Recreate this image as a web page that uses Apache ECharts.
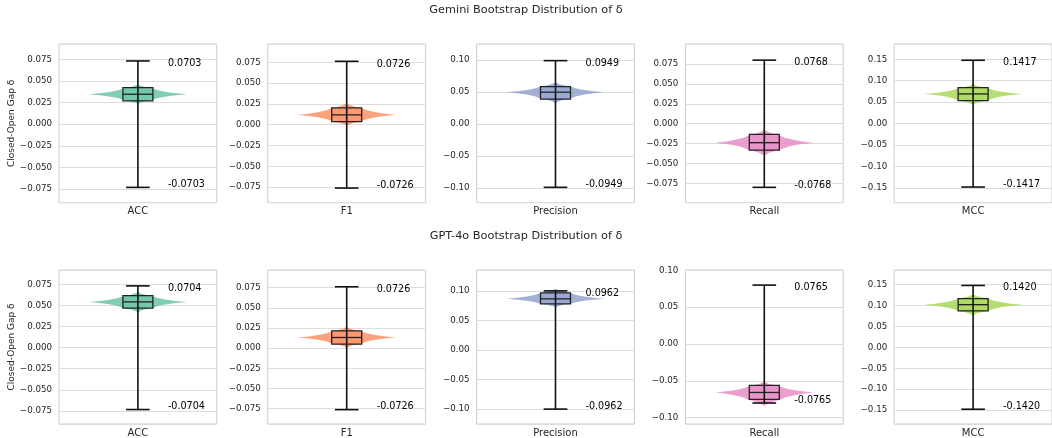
<!DOCTYPE html>
<html>
<head>
<meta charset="utf-8">
<script src="https://cdn.jsdelivr.net/npm/echarts@6/dist/echarts.min.js"></script>
<style>
  html, body { margin: 0; padding: 0; background: #fff; }
  #chart { width: 1052px; height: 438px; }
</style>
</head>
<body>
<div id="chart"></div>
<script>
const metrics = ['ACC', 'F1', 'Precision', 'Recall', 'MCC']
const rowTitles = ['Gemini Bootstrap Distribution of δ', 'GPT-4o Bootstrap Distribution of δ']

// Gemini
const geminiMedian = [0.0346, 0.0118, 0.0497, -0.0237, 0.0693]
const geminiQ1 = [0.0269, 0.0037, 0.0388, -0.0329, 0.0537]
const geminiQ3 = [0.0422, 0.0202, 0.0584, -0.0133, 0.0840]
const geminiViolinLow = [0.0234, -0.0014, 0.0326, -0.0400, 0.0437]
const geminiViolinHigh = [0.0460, 0.0258, 0.0653, -0.0074, 0.0926]
const geminiWhisker = [0.0731, 0.0762, 0.0990, 0.0796, 0.1477]
const geminiThreshold = [0.0703, 0.0726, 0.0949, 0.0768, 0.1417]
const geminiAxisMin = [-0.0908, -0.0938, -0.123, -0.0988, -0.1842]
const geminiAxisMax = [0.0927, 0.0970, 0.125, 0.0998, 0.1856]
const geminiTickStep = [0.025, 0.025, 0.05, 0.025, 0.05]

// GPT-4o
const gptMedian = [0.0545, 0.0133, 0.0865, -0.0657, 0.1020]
const gptQ1 = [0.0471, 0.0050, 0.0780, -0.0751, 0.0874]
const gptQ3 = [0.0620, 0.0215, 0.0966, -0.0562, 0.1166]
const gptViolinLow = [0.0420, 0.0005, 0.0720, -0.0838, 0.0762]
const gptViolinHigh = [0.0663, 0.0265, 0.1034, -0.0508, 0.1270]
const gptWhisker = [0.0735, 0.0762, 0.1000, 0.0800, 0.1480]
const gptThreshold = [0.0704, 0.0726, 0.0962, 0.0765, 0.1420]
const gptAxisMin = [-0.0907, -0.0940, -0.1252, -0.1085, -0.1833]
const gptAxisMax = [0.0924, 0.0970, 0.1353, 0.1005, 0.1849]
const gptTickStep = [0.025, 0.025, 0.05, 0.05, 0.05]

// violin outline: [fraction toward tail, relative width]
const violinProfile = [[0, 1], [0.1, 0.78], [0.2, 0.62], [0.3, 0.5], [0.4, 0.41], [0.5, 0.35],
  [0.6, 0.27], [0.7, 0.17], [0.8, 0.09], [0.9, 0.04], [1, 0]]

const colors = ['#66c2a5', '#fc8d62', '#8da0cb', '#e78ac3', '#a6d854']
const font = 'DejaVu Sans'
const textColor = '#262626'

const panelLeft = [59, 267.8, 476.6, 685.4, 894.2]
const panelWidth = 157.8
const rowTop = [44, 270]
const rowHeight = [158.7, 155]

const rows = [
  { median: geminiMedian, q1: geminiQ1, q3: geminiQ3, lo: geminiViolinLow, hi: geminiViolinHigh,
    whisker: geminiWhisker, thr: geminiThreshold, min: geminiAxisMin, max: geminiAxisMax, step: geminiTickStep },
  { median: gptMedian, q1: gptQ1, q3: gptQ3, lo: gptViolinLow, hi: gptViolinHigh,
    whisker: gptWhisker, thr: gptThreshold, min: gptAxisMin, max: gptAxisMax, step: gptTickStep }
]

const makeRender = (color) => (params, api) => {
  const med = api.value(1)
  const q1 = api.value(2)
  const q3 = api.value(3)
  const lo = api.value(4)
  const hi = api.value(5)
  const wh = api.value(6)
  const thr = api.value(7)
  const band = api.size([1, 0])[0]
  const cx = api.coord([0, med])[0]
  const y = (v) => api.coord([0, v])[1]

  // violin
  const vw = band * 0.31
  const right = []
  for (let i = violinProfile.length - 1; i >= 0; i--) {
    const [t, w] = violinProfile[i]
    right.push([cx + vw * w, y(med + t * (hi - med))])
  }
  for (let i = 1; i < violinProfile.length; i++) {
    const [t, w] = violinProfile[i]
    right.push([cx + vw * w, y(med - t * (med - lo))])
  }
  const left = right.slice().reverse().map(p => [2 * cx - p[0], p[1]])
  const violin = {
    type: 'polygon',
    shape: { points: right.concat(left) },
    style: { fill: color, opacity: 0.82 }
  }

  const bw = band * 0.095
  const box = {
    type: 'rect',
    shape: { x: cx - bw, y: y(q3), width: 2 * bw, height: y(q1) - y(q3) },
    style: { fill: color, fillOpacity: 0.45, stroke: '#222', lineWidth: 1.3 }
  }
  const medLine = {
    type: 'line',
    shape: { x1: cx - bw, y1: y(med), x2: cx + bw, y2: y(med) },
    style: { stroke: '#222', lineWidth: 1.3 }
  }
  const cw = band * 0.075
  const lineStyle = { stroke: '#111', lineWidth: 1.6 }
  const stem = { type: 'line', shape: { x1: cx, y1: y(wh), x2: cx, y2: y(-wh) }, style: lineStyle }
  const capTop = { type: 'line', shape: { x1: cx - cw, y1: y(wh), x2: cx + cw, y2: y(wh) }, style: lineStyle }
  const capBot = { type: 'line', shape: { x1: cx - cw, y1: y(-wh), x2: cx + cw, y2: y(-wh) }, style: lineStyle }

  const label = (v) => ({
    type: 'text',
    style: {
      x: cx + band * 0.19, y: y(v), text: v.toFixed(4),
      fill: '#000', font: '9.6px "DejaVu Sans"', align: 'left', verticalAlign: 'middle'
    }
  })

  return {
    type: 'group',
    children: [violin, box, medLine, stem, capTop, capBot, label(thr), label(-thr)]
  }
}

const grid = []
const xAxis = []
const yAxis = []
const series = []

rows.forEach((row, r) => {
  metrics.forEach((name, c) => {
    const idx = r * 5 + c
    const step = row.step[c]
    const decimals = step < 0.05 ? 3 : 2
    grid.push({
      left: panelLeft[c], top: rowTop[r], width: panelWidth, height: rowHeight[r],
      show: true, borderColor: '#cccccc', borderWidth: 1
    })
    xAxis.push({
      type: 'category', gridIndex: idx, data: [name],
      axisLine: { show: false }, axisTick: { show: false }, splitLine: { show: false },
      axisLabel: { fontSize: 10, color: textColor, fontFamily: font, margin: 4 }
    })
    yAxis.push({
      type: 'value', gridIndex: idx,
      min: row.min[c], max: row.max[c],
      minInterval: step, maxInterval: step,
      axisLine: { show: false }, axisTick: { show: false },
      axisLabel: {
        fontSize: 8.7, color: textColor, fontFamily: font, margin: 7,
        showMinLabel: false, showMaxLabel: false,
        formatter: (v) => v.toFixed(decimals).replace('-', '\u2212')
      },
      splitLine: { lineStyle: { color: '#dcdcdc', width: 1 } },
      name: c === 0 ? 'Closed-Open Gap δ' : '',
      nameLocation: 'middle', nameRotate: 90, nameGap: 43,
      nameTextStyle: { fontSize: 9, color: textColor, fontFamily: font }
    })
    series.push({
      type: 'custom', xAxisIndex: idx, yAxisIndex: idx,
      renderItem: makeRender(colors[c]),
      data: [[0, row.median[c], row.q1[c], row.q3[c], row.lo[c], row.hi[c], row.whisker[c], row.thr[c]]],
      silent: true, animation: false
    })
  })
})

const chart = echarts.init(document.getElementById('chart'))
chart.setOption({
  animation: false,
  backgroundColor: '#fff',
  title: rowTitles.map((text, r) => ({
    text, left: 'center', top: r === 0 ? 5 : 231, padding: 0,
    textStyle: { fontSize: 11.3, fontWeight: 'normal', color: textColor, fontFamily: font }
  })),
  grid, xAxis, yAxis, series
})
window.addEventListener('resize', () => chart.resize())
</script>
</body>
</html>
